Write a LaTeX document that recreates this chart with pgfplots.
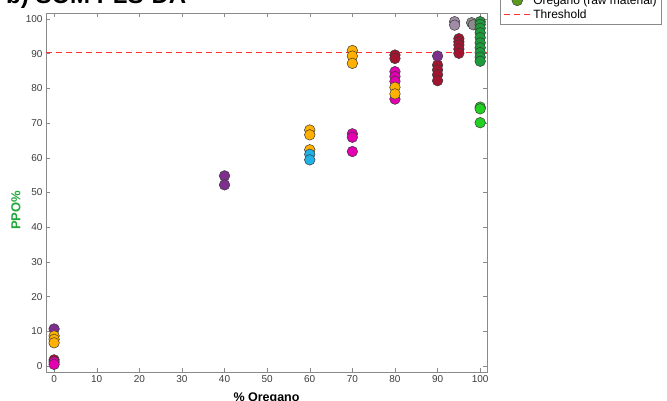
\documentclass[border=0pt]{standalone}
\usepackage{pgfplots}
\pgfplotsset{compat=1.18}
\usepackage{fontspec}
\setmainfont{Liberation Sans}
\definecolor{axgray}{HTML}{8A8A8A}
\definecolor{ticktext}{HTML}{3C3C3C}
\definecolor{edgegray}{HTML}{3A3A3A}
\definecolor{ppogreen}{HTML}{1FA83A}
\definecolor{cpurple}{HTML}{7E2F8E}
\definecolor{corange}{HTML}{FFB000}
\definecolor{cmagenta}{HTML}{E200B0}
\definecolor{ccrimson}{HTML}{A2142F}
\definecolor{ccyan}{HTML}{1FB2E6}
\definecolor{cmauve}{HTML}{A08CA6}
\definecolor{cgray}{HTML}{8C8C8C}
\definecolor{cdgreen}{HTML}{1E9B3A}
\definecolor{cbgreen}{HTML}{22D022}
\definecolor{colive}{HTML}{5A9A1A}
\definecolor{cthresh}{HTML}{FF3030}
\pgfplotsset{pt/.style={only marks, mark=*, mark size=5.3pt, mark options={fill=#1, draw=edgegray, line width=0.5pt}, forget plot}}
\begin{document}
\begin{tikzpicture}
\path[use as bounding box] (0pt,0pt) rectangle (667pt,401pt);
\clip (0pt,0pt) rectangle (667pt,401pt);
\node[anchor=base west, inner sep=0, font=\fontsize{24}{24}\selectfont\bfseries] at (6pt,397pt) {b) SOM PLS-DA};
\begin{axis}[
 at={(46pt,29pt)}, anchor=south west, scale only axis, width=441pt, height=359pt,
 xmin=-1.9, xmax=101.6, ymin=-1.7, ymax=101.7,
 xtick={0,10,...,100}, ytick={0,10,...,100},
 tick align=inside, major tick length=4pt,
 axis line style={draw=axgray}, every tick/.style={axgray},
 tick label style={font=\fontsize{10}{12}\selectfont, text=ticktext},
 /pgf/number format/assume math mode=true,
 xlabel={\% Oregano}, ylabel={PPO\%},
 xlabel style={font=\fontsize{12.5}{14}\selectfont\bfseries, at={(axis description cs:0.5,-0.056)}, anchor=north, inner sep=0},
 ylabel style={font=\fontsize{13}{14}\selectfont\bfseries, text=ppogreen, at={(axis description cs:-0.068,0.45)}, anchor=center},
 legend style={at={(axis description cs:1.0295,0.9694)}, anchor=south west, draw=axgray, fill=white, font=\fontsize{12}{12.5}\selectfont, row sep=0pt},
 legend cell align=left,
 legend image code/.code={\draw[mark repeat=2,mark phase=2,#1] plot coordinates {(0pt,0pt) (13.5pt,0pt) (27pt,0pt)};},
]
\addplot[cthresh, dash pattern=on 6pt off 4pt, line width=1.1pt, forget plot] coordinates {(-1.9,90.4) (101.6,90.4)};
% crimson
\addplot[pt=ccrimson] coordinates {(0,1.8) (80,89.6) (80,88.6) (90,86.7) (90,85.3) (90,83.9) (90,82.2) (95,94.3) (95,93.4) (95,92.5) (95,91.3) (95,90.1)};
% purple
\addplot[pt=cpurple] coordinates {(0,10.7) (40,54.8) (40,52.2) (90,89.3)};
% magenta
\addplot[pt=cmagenta] coordinates {(0,1.2) (0,0.5) (70,66.9) (70,65.9) (70,61.8) (80,84.8) (80,83.4) (80,82.0) (80,76.9)};
% orange
\addplot[pt=corange] coordinates {(0,8.7) (0,7.7) (0,6.7) (60,68.0) (60,66.6) (60,62.3) (70,90.9) (70,89.3) (70,87.2) (80,80.3) (80,78.4)};
% cyan
\addplot[pt=ccyan] coordinates {(60,61.0) (60,59.4)};
% mauve
\addplot[pt=cmauve] coordinates {(94,99.2) (94,98.2)};
% gray
\addplot[pt=cgray] coordinates {(98,98.9) (98.4,98.3)};
% dark green
\addplot[pt=cdgreen] coordinates {(100,99.2) (100,98.4) (100,97.3) (100,96.0) (100,94.6) (100,93.1) (100,91.7) (100,90.3) (100,89.0) (100,87.8)};
% bright green
\addplot[pt=cbgreen] coordinates {(100,74.6) (100,74.1) (100,70.1)};
\addlegendimage{only marks, mark=*, mark size=5.3pt, mark options={fill=colive, draw=edgegray, line width=0.5pt}}
\addlegendentry{Oregano (raw material)}
\addlegendimage{cthresh, dash pattern=on 6pt off 4pt, line width=1.1pt}
\addlegendentry{Threshold}
\end{axis}
\end{tikzpicture}
\end{document}
